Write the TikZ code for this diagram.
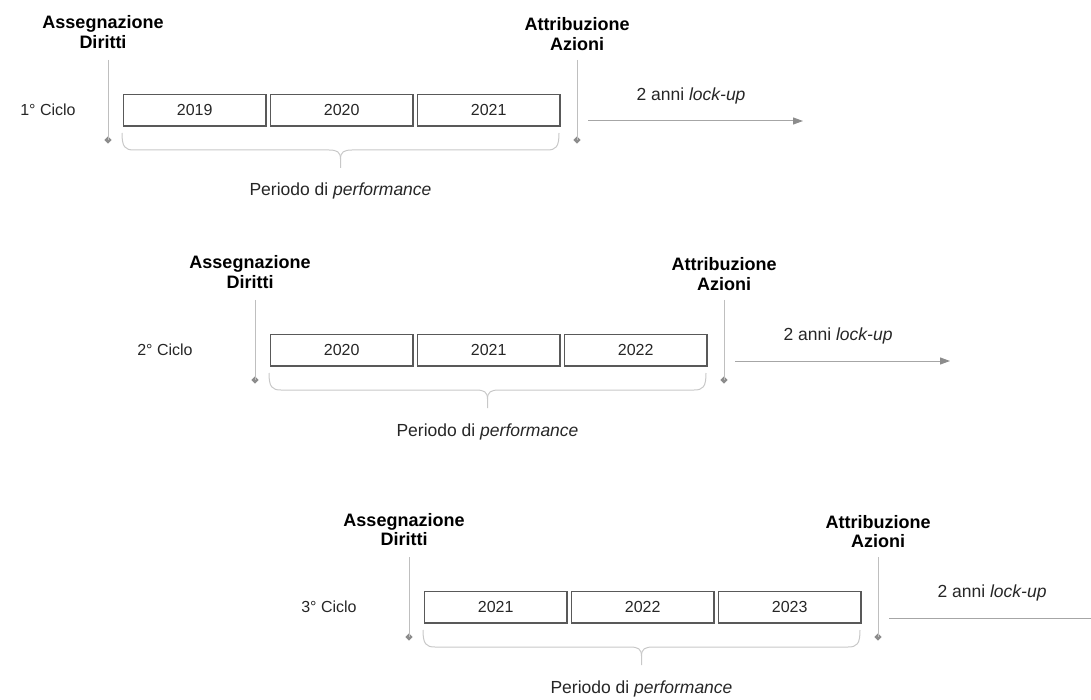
\documentclass[tikz,border=0pt]{standalone}
\usepackage{fontspec}
\setmainfont{Liberation Sans}
\usetikzlibrary{arrows.meta,shapes.geometric}
\definecolor{boxline}{HTML}{595959}
\definecolor{linegray}{HTML}{BFBFBF}
\definecolor{markgray}{HTML}{8C8C8C}
\definecolor{bracegray}{HTML}{C8C8C8}
\definecolor{arrowgray}{HTML}{A6A6A6}
\definecolor{arrowhead}{HTML}{8C8C8C}
\definecolor{txt}{HTML}{262626}
\tikzset{
  yearbox/.style={draw=boxline, line width=1.4pt, minimum width=142.6pt, minimum height=31.6pt,
    inner sep=0pt, anchor=north west, font=\fontsize{16}{19}\selectfont, text=txt},
  boldlab/.style={font=\fontsize{18}{20}\selectfont\bfseries, anchor=base, inner sep=0pt, text=black},
  plainlab/.style={font=\fontsize{17.5}{20}\selectfont, anchor=base, inner sep=0pt, text=txt},
  cyclab/.style={font=\fontsize{16}{19}\selectfont, anchor=center, inner sep=0pt, text=txt},
  marker/.style={diamond, fill=markgray, inner sep=0pt, minimum size=7.5pt},
  vline/.style={draw=linegray, line width=1pt},
  bracestyle/.style={draw=bracegray, line width=1pt},
  lockarrow/.style={draw=arrowgray, line width=1pt, -{Triangle[length=10pt,width=7pt,fill=arrowhead,color=arrowhead]}},
  lockline/.style={draw=arrowgray, line width=1pt},
}
\newcommand\drawcycle[8]{%
  \begin{scope}[shift={(#1,#2)}]
    % vertical markers
    \coordinate (at#3) at (108,60);
    \node[marker] (ad#3) at (108,140) {};
    \draw[vline] (at#3) -- (ad#3.center);
    \coordinate (bt#3) at (577,60);
    \node[marker] (bd#3) at (577,140) {};
    \draw[vline] (bt#3) -- (bd#3.center);
    % bold labels
    \node[boldlab] (asA#3) at (103,29) {Assegnazione};
    \node[boldlab] (asB#3) at (103,48.5) {Diritti};
    \node[boldlab] (atA#3) at (577,31) {Attribuzione};
    \node[boldlab] (atB#3) at (577,50.5) {Azioni};
    % cycle label
    \node[cyclab] (cy#3) at (#4,109.5) {#5};
    % year boxes
    \node[yearbox] (y1#3) at (122.7,93.7) {#6};
    \node[yearbox] (y2#3) at (269.7,93.7) {#7};
    \node[yearbox] (y3#3) at (416.7,93.7) {#8};
    % brace
    \coordinate (bl#3) at (122,133);
    \coordinate (br#3) at (559,133);
    \coordinate (tip#3) at (340.5,168);
    \coordinate (mid#3) at (340.5,159);
    \draw[bracestyle] (bl#3) .. controls (122,147) and (125,150) .. (134,150) -- (329,150)
      .. controls (337,150) and (340.5,152) .. (mid#3) -- (tip#3);
    \draw[bracestyle] (br#3) .. controls (559,147) and (556,150) .. (547,150) -- (352,150)
      .. controls (344,150) and (340.5,152) .. (mid#3);
    \node[plainlab] (pp#3) at (340.5,196) {Periodo di \textit{performance}};
    % lock-up label
    \node[plainlab] (lk#3) at (691,100.5) {2 anni \textit{lock-up}};
    \coordinate (ls#3) at (588,121);
  \end{scope}}
\begin{document}
\begin{tikzpicture}[x=1pt,y=-1pt]
  \useasboundingbox (0,0) rectangle (1091,700);
  \drawcycle{0}{0}{c1}{48}{1° Ciclo}{2019}{2020}{2021}
  \drawcycle{147}{240}{c2}{18}{2° Ciclo}{2020}{2021}{2022}
  \drawcycle{301}{497}{c3}{28}{3° Ciclo}{2021}{2022}{2023}
  \coordinate (le1) at (803,121);
  \coordinate (le2) at (950,361);
  \coordinate (le3) at (1091,618);
  \draw[lockarrow] (lsc1) -- (le1);
  \draw[lockarrow] (lsc2) -- (le2);
  \draw[lockline] (lsc3) -- (le3);
\end{tikzpicture}
\end{document}
